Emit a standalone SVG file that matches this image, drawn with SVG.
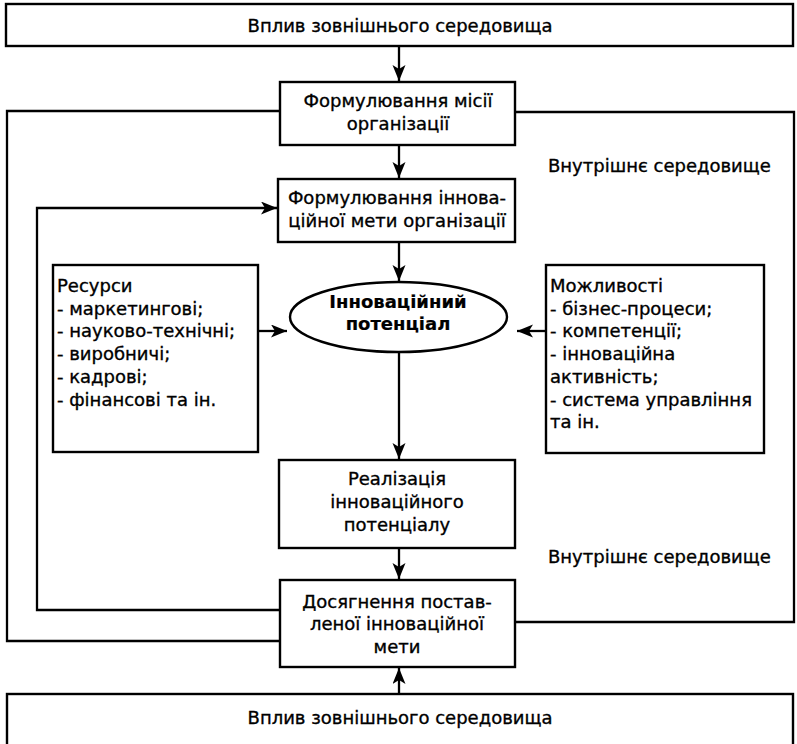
<svg xmlns="http://www.w3.org/2000/svg" width="797" height="744" viewBox="0 0 797 744">
<defs>
<style>
.box{fill:#fff;stroke:#000;stroke-width:2.4}
.ln{fill:none;stroke:#000;stroke-width:2.3}
.t{font-family:"DejaVu Sans","Liberation Sans",sans-serif;font-size:18px;fill:#000;stroke:#000;stroke-width:0.35}
.c{text-anchor:middle}
.b{font-weight:bold;stroke-width:0.2}
</style>
<marker id="ah" markerUnits="userSpaceOnUse" markerWidth="18" markerHeight="14" refX="16" refY="6.5" orient="auto">
<path d="M0,0 L16,6.5 L0,13 L4,6.5 z" fill="#000"/>
</marker>
</defs>
<rect width="797" height="744" fill="#fff"/>
<g id="connectors">
<polyline class="ln" points="280,111 7,111 7,641 280,641"/>
<polyline class="ln" points="515,112 794,112 794,622 515,622"/>
<polyline class="ln" points="280,610 37,610 37,208 277,208" marker-end="url(#ah)"/>
<line class="ln" x1="399" y1="46" x2="399" y2="81" marker-end="url(#ah)"/>
<line class="ln" x1="399" y1="145" x2="399" y2="178" marker-end="url(#ah)"/>
<line class="ln" x1="399" y1="242" x2="399" y2="281" marker-end="url(#ah)"/>
<line class="ln" x1="399" y1="352" x2="399" y2="459" marker-end="url(#ah)"/>
<line class="ln" x1="399" y1="548" x2="399" y2="579" marker-end="url(#ah)"/>
<line class="ln" x1="399" y1="694" x2="399" y2="668" marker-end="url(#ah)"/>
<line class="ln" x1="256" y1="331" x2="287" y2="331" marker-end="url(#ah)"/>
<line class="ln" x1="546" y1="331" x2="517" y2="331" marker-end="url(#ah)"/>
</g>
<g id="top-env">
<rect class="box" x="6" y="4" width="787" height="42"/>
<text class="t c" x="400" y="32">Вплив зовнішнього середовища</text>
</g>
<g id="mission">
<rect class="box" x="280" y="82" width="235" height="63"/>
<text class="t c" x="398" y="107">Формулювання місії</text>
<text class="t c" x="398" y="130">організації</text>
</g>
<g id="internal-label-1">
<text class="t" x="548" y="172">Внутрішнє середовище</text>
</g>
<g id="goal">
<rect class="box" x="278" y="179" width="237" height="63"/>
<text class="t c" x="397" y="204">Формулювання іннова-</text>
<text class="t c" x="397" y="227">ційної мети організації</text>
</g>
<g id="resources">
<rect class="box" x="53" y="265" width="205" height="187"/>
<text class="t" x="57" y="292">Ресурси</text>
<text class="t" x="57" y="314.7">- маркетингові;</text>
<text class="t" x="57" y="337.4">- науково-технічні;</text>
<text class="t" x="57" y="360.1">- виробничі;</text>
<text class="t" x="57" y="382.8">- кадрові;</text>
<text class="t" x="57" y="405.5">- фінансові та ін.</text>
</g>
<g id="potential">
<ellipse class="box" cx="398.5" cy="317" rx="108.5" ry="35"/>
<text class="t c b" x="398" y="308">Інноваційний</text>
<text class="t c b" x="398" y="330">потенціал</text>
</g>
<g id="capabilities">
<rect class="box" x="546" y="265" width="218" height="188"/>
<text class="t" x="550" y="292">Можливості</text>
<text class="t" x="550" y="314.7">- бізнес-процеси;</text>
<text class="t" x="550" y="337.4">- компетенції;</text>
<text class="t" x="550" y="360.1">- інноваційна</text>
<text class="t" x="550" y="382.8">активність;</text>
<text class="t" x="550" y="405.5">- система управління</text>
<text class="t" x="550" y="428.2">та ін.</text>
</g>
<g id="realization">
<rect class="box" x="279" y="460" width="236" height="88"/>
<text class="t c" x="397" y="485">Реалізація</text>
<text class="t c" x="397" y="508">інноваційного</text>
<text class="t c" x="397" y="531">потенціалу</text>
</g>
<g id="internal-label-2">
<text class="t" x="548" y="563">Внутрішнє середовище</text>
</g>
<g id="achievement">
<rect class="box" x="280" y="580" width="235" height="87"/>
<text class="t c" x="397" y="607.5">Досягнення постав-</text>
<text class="t c" x="397" y="630">леної інноваційної</text>
<text class="t c" x="397" y="652.5">мети</text>
</g>
<g id="bottom-env">
<rect class="box" x="7" y="694" width="786" height="60"/>
<text class="t c" x="400" y="724">Вплив зовнішнього середовища</text>
</g>
</svg>
